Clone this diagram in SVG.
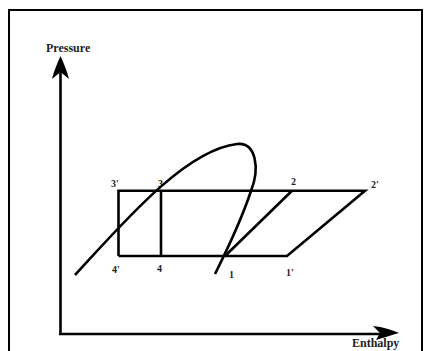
<svg xmlns="http://www.w3.org/2000/svg" width="425" height="351" viewBox="0 0 425 351">
<style>
.ln{fill:none;stroke:#000;stroke-width:2.6;stroke-linejoin:miter;stroke-linecap:butt}
.lb{font-family:"Liberation Serif","Times New Roman",serif;font-weight:bold;fill:#222}
.ax{font-size:12px}
.pt{font-size:10px}
</style>
<rect x="0" y="0" width="425" height="351" fill="#fff"/>
<rect x="9" y="10" width="413" height="352" fill="none" stroke="#000" stroke-width="2"/>
<g id="axes">
<path class="ln" d="M60.5,334.5 V70"/>
<path class="ln" d="M59,334 H388"/>
<path d="M60.5,56 C58,62 54,70 52,79 L60.5,72 L69,79 C67,70 63,62 60.5,56 Z" fill="#000"/>
<path d="M399,333 C392,330 383,327 373,326 L380,333 L376,340 C385,337 392,335 399,333 Z" fill="#000"/>
</g>
<g id="labels">
<text class="lb ax" x="46" y="52">Pressure</text>
<text class="lb ax" x="352" y="347">Enthalpy</text>
<text class="lb pt" x="111" y="187">3'</text>
<text class="lb pt" x="158" y="187">3</text>
<text class="lb pt" x="291" y="185">2</text>
<text class="lb pt" x="371" y="188">2'</text>
<text class="lb pt" x="112" y="273">4'</text>
<text class="lb pt" x="157" y="272">4</text>
<text class="lb pt" x="229" y="278">1</text>
<text class="lb pt" x="286" y="276">1'</text>
</g>
<g id="connectors">
<path id="cycle" class="ln" d="M118.5,256 V190.7 H365 L287,256 H118.5 M161,190.7 V256 M225,256 L292,190.7"/>
<path id="dome" class="ln" d="M75,275 C123,223 185,150 237,144 C256,142 260,168 251,191 C244,212 230,244 215,274"/>
</g>
</svg>
